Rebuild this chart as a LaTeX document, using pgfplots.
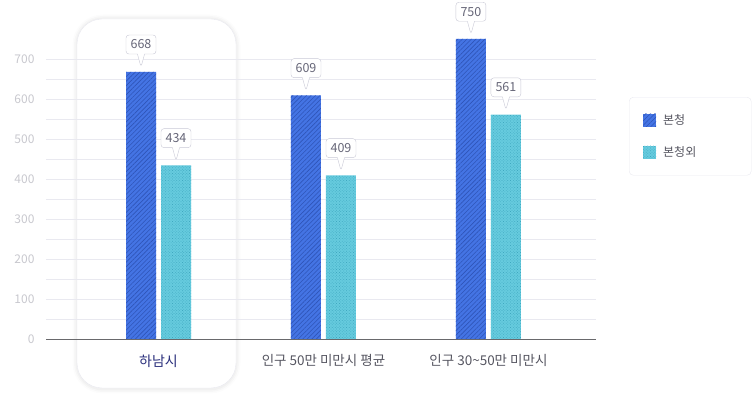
\documentclass[border=0pt]{standalone}
\usepackage{fontspec}
\setmainfont{Noto Sans CJK KR}
\usepackage{pgfplots}
\pgfplotsset{compat=1.18}
\usetikzlibrary{patterns.meta,shapes.callouts}

\definecolor{bonblue}{HTML}{4474E4}
\definecolor{bonline}{HTML}{2F55B8}
\definecolor{oecyan}{HTML}{66CBDE}
\definecolor{oedot}{HTML}{3FA8C0}
\definecolor{gridc}{HTML}{E9E9F0}
\definecolor{ticklab}{HTML}{C8C8CE}
\definecolor{navy}{HTML}{2A2F7C}
\definecolor{catgrey}{HTML}{555560}
\definecolor{lblborder}{HTML}{C9C9D6}
\definecolor{lbltext}{HTML}{666678}

\begin{document}
\begin{tikzpicture}
\useasboundingbox (0,0) rectangle (756pt,411pt);

% highlighted card behind the first group
\foreach \w/\o in {9/0.012,6/0.018,3/0.025}
  \draw[line width=\w pt, black, opacity=\o, rounded corners=26pt]
    (77pt,22pt) rectangle (236pt,392pt);
\draw[fill=white, draw=gridc, rounded corners=25pt]
  (77pt,23pt) rectangle (236pt,392pt);

\begin{axis}[
    at={(46pt,72pt)}, anchor=south west,
    scale only axis, width=550pt, height=280pt,
    ymin=0, ymax=700,
    xmin=-0.682, xmax=2.652,
    clip=false,
    axis lines=left,
    axis line style={-},
    y axis line style={draw=none},
    x axis line style={draw=black!55!gridc, line width=0.8pt},
    major tick length=0pt, minor tick length=0pt,
    ytick={0,100,...,700},
    minor ytick={50,150,...,650},
    ymajorgrids, yminorgrids,
    major grid style={gridc, line width=0.7pt},
    minor grid style={gridc, line width=0.7pt},
    /pgf/number format/assume math mode=true,
    yticklabel style={font=\fontsize{12}{14}\selectfont, text=ticklab, xshift=-8pt},
    xtick={0,1,2},
    xticklabels={{\textcolor{navy}{\fontsize{14}{16}\selectfont 하남시}},
                 인구 50만 미만시 평균, 인구 30\textasciitilde 50만 미만시},
    xticklabel style={font=\fontsize{13.5}{15}\selectfont, text=catgrey, yshift=-12pt},
    ybar=5pt, bar width=30pt,
    nodes near coords,
    nodes near coords style={
        rectangle callout, callout relative pointer={(canvas cs:x=0pt,y=-13pt)},
        anchor=pointer, yshift=4pt,
        draw=lblborder, fill=white, rounded corners=3pt,
        font=\fontsize{12.5}{14}\selectfont, text=lbltext,
        minimum width=30pt, minimum height=19pt, inner xsep=3pt, inner ysep=2pt},
    legend image code/.code={\path[#1, sharp corners] (0pt,-6.5pt) rectangle (13pt,6.5pt);},
    legend style={at={(1.06,0.864)}, anchor=north west,
        draw=gridc, rounded corners=4pt, fill=white,
        inner xsep=14pt, inner ysep=15pt, row sep=17pt,
        font=\fontsize{12}{14}\selectfont, text=catgrey},
    legend cell align=left,
]
\addplot[fill=bonblue, draw=none,
    postaction={pattern={Lines[angle=45, distance=3.2pt, line width=0.6pt]}, pattern color=bonline}]
    coordinates {(0,668) (1,609) (2,750)};
\addlegendentry{\hspace{5pt}\makebox[72pt][l]{본청}}
\addplot[fill=oecyan, draw=none,
    postaction={pattern={Dots[distance=2pt, radius=0.5pt, angle=45]}, pattern color=oedot}]
    coordinates {(0,434) (1,409) (2,561)};
\addlegendentry{\hspace{5pt}\makebox[72pt][l]{본청외}}
\end{axis}
\end{tikzpicture}
\end{document}
